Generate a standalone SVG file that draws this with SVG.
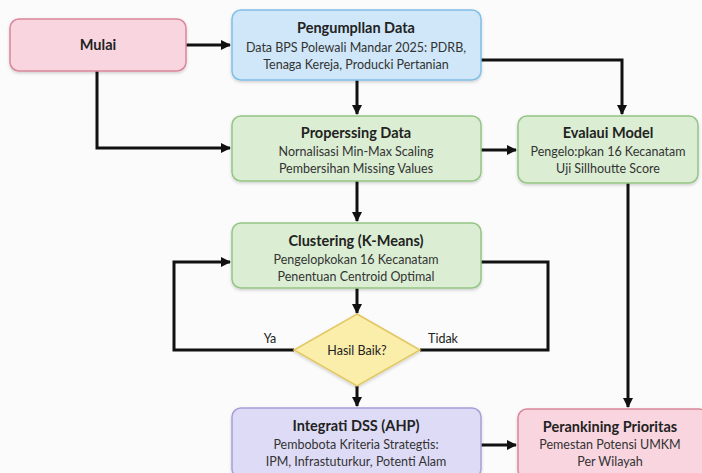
<svg xmlns="http://www.w3.org/2000/svg" width="702" height="473" viewBox="0 0 702 473">
<defs>
<marker id="ah" markerWidth="10" markerHeight="10" refX="9" refY="5" orient="auto" markerUnits="userSpaceOnUse"><path d="M0,0 L10,5 L0,10 z" fill="#111"/></marker>
<filter id="sh" x="-10%" y="-10%" width="120%" height="130%"><feDropShadow dx="0" dy="1.5" stdDeviation="1.5" flood-color="#000" flood-opacity="0.18"/></filter>
<style>
.t{font-family:Lato,"Open Sans",sans-serif;font-weight:bold;font-size:14.5px;fill:#222;text-anchor:middle}
.s{font-family:Lato,"Open Sans",sans-serif;font-size:12.5px;fill:#333;text-anchor:middle}
.l{font-family:Lato,"Open Sans",sans-serif;font-size:12.5px;fill:#222;text-anchor:middle}
.c{fill:none;stroke:#111;stroke-width:3}
.pink{fill:#f8d5df;stroke:#d9879c;stroke-width:1.5}
.blue{fill:#cfe7f8;stroke:#80bfe6;stroke-width:1.5}
.green{fill:#dbeed3;stroke:#95c585;stroke-width:1.5}
.purple{fill:#dedbf6;stroke:#a89fd9;stroke-width:1.5}
.yellow{fill:#fbeeaa;stroke:#e2c760;stroke-width:1.5}
</style>
</defs>
<rect width="702" height="473" fill="#fbfbfb"/>
<g id="connectors">
<path class="c" d="M186,45 H230" marker-end="url(#ah)"/>
<path class="c" d="M97,71 V148 H230" marker-end="url(#ah)"/>
<path class="c" d="M357,80 V114" marker-end="url(#ah)"/>
<path class="c" d="M481,60 H622 V114" marker-end="url(#ah)"/>
<path class="c" d="M481,150 H516" marker-end="url(#ah)"/>
<path class="c" d="M357,181 V221" marker-end="url(#ah)"/>
<path class="c" d="M357,288 V313" marker-end="url(#ah)"/>
<path class="c" d="M294,350 H174 V262 H230" marker-end="url(#ah)"/>
<path class="c" d="M420,350 H548 V262 H481"/>
<path class="c" d="M357,386 V406" marker-end="url(#ah)"/>
<path class="c" d="M628,183 V407" marker-end="url(#ah)"/>
<path class="c" d="M481,445 H516" marker-end="url(#ah)"/>
</g>
<g id="mulai">
<rect class="pink" x="10" y="19" width="176" height="52" rx="9" filter="url(#sh)"/>
<text class="t" x="98" y="50">Mulai</text>
</g>
<g id="pengumpulan">
<rect class="blue" x="232" y="10" width="249" height="70" rx="9" filter="url(#sh)"/>
<text class="t" x="356" y="33">Pengumpllan Data</text>
<text class="s" x="356" y="52">Data BPS Polewali Mandar 2025: PDRB,</text>
<text class="s" x="356" y="69">Tenaga Kereja, Producki Pertanian</text>
</g>
<g id="preprocessing">
<rect class="green" x="232" y="116" width="249" height="65" rx="9" filter="url(#sh)"/>
<text class="t" x="356" y="138">Properssing Data</text>
<text class="s" x="356" y="156">Nornalisasi Min-Max Scaling</text>
<text class="s" x="356" y="173">Pembersihan Missing Values</text>
</g>
<g id="evaluasi">
<rect class="green" x="518" y="116" width="180" height="67" rx="9" filter="url(#sh)"/>
<text class="t" x="608" y="138">Evalaui Model</text>
<text class="s" x="608" y="156">Pengelo:pkan 16 Kecanatam</text>
<text class="s" x="608" y="173">Uji Sillhoutte Score</text>
</g>
<g id="clustering">
<rect class="green" x="232" y="223" width="249" height="65" rx="9" filter="url(#sh)"/>
<text class="t" x="356" y="246">Clustering (K-Means)</text>
<text class="s" x="356" y="264">Pengelopkokan 16 Kecanatam</text>
<text class="s" x="356" y="281">Penentuan Centroid Optimal</text>
</g>
<g id="decision">
<path class="yellow" d="M357,314 L420,350 L357,386 L294,350 Z" filter="url(#sh)"/>
<text class="l" x="357" y="355">Hasil Baik?</text>
<text class="l" x="270" y="343">Ya</text>
<text class="l" x="443" y="343">Tidak</text>
</g>
<g id="integrasi">
<rect class="purple" x="232" y="408" width="249" height="70" rx="9" filter="url(#sh)"/>
<text class="t" x="356" y="431">Integrati DSS (AHP)</text>
<text class="s" x="356" y="449">Pembobota Kriteria Strategtis:</text>
<text class="s" x="356" y="466">IPM, Infrastuturkur, Potenti Alam</text>
</g>
<g id="perankingan">
<rect class="pink" x="518" y="409" width="190" height="70" rx="9" filter="url(#sh)"/>
<text class="t" x="610" y="432">Perankining Prioritas</text>
<text class="s" x="610" y="449">Pemestan Potensi UMKM</text>
<text class="s" x="610" y="466">Per Wilayah</text>
</g>
</svg>
